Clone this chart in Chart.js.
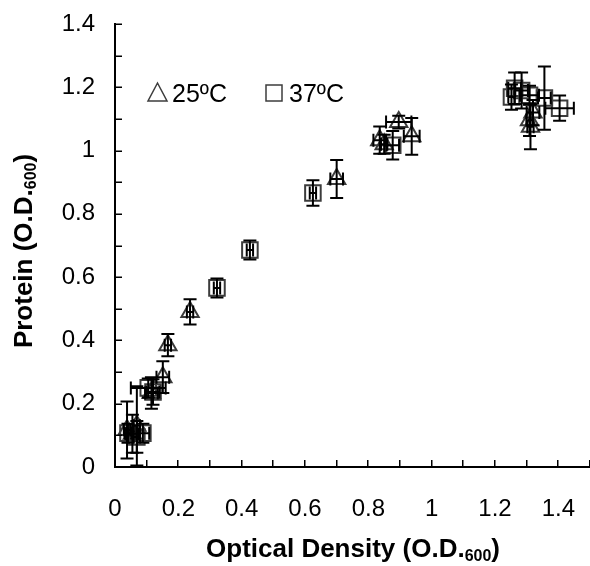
<!DOCTYPE html>
<html><head><meta charset="utf-8">
<script src="https://cdn.jsdelivr.net/npm/chart.js@4/dist/chart.umd.min.js"></script>
<style>html,body{margin:0;padding:0;background:#fff}#wrap{width:590px;height:566px;position:relative}</style>
</head><body><div id="wrap"><canvas id="c" width="590" height="566"></canvas></div>
<script>
// ---- data ----
const seriesLabels = ['25ºC', '37ºC'];
const xTickLabels = ['0', '0.2', '0.4', '0.6', '0.8', '1', '1.2', '1.4'];
const yTickLabels = ['0', '0.2', '0.4', '0.6', '0.8', '1', '1.2', '1.4'];
const xTitle = ['Optical Density (O.D.', '600', ')'];
const yTitle = ['Protein (O.D.', '600', ')'];

// 25 ºC (triangles)
const x25 = [0.038, 0.069, 0.055, 0.115, 0.151, 0.167, 0.237, 0.700, 0.836, 0.850, 0.896, 0.937, 1.309, 1.312, 1.320];
const y25 = [0.117, 0.130, 0.105, 0.234, 0.284, 0.385, 0.490, 0.910, 1.033, 1.020, 1.090, 1.045, 1.096, 1.075, 1.120];
const xErr25 = [0.010, 0.010, 0.020, 0.020, 0.020, 0.010, 0.010, 0.020, 0.020, 0.010, 0.040, 0.025, 0.010, 0.010, 0.020];
const yErr25 = [0.090, 0.125, 0.060, 0.050, 0.050, 0.035, 0.040, 0.060, 0.043, 0.030, 0.020, 0.058, 0.050, 0.071, 0.040];

// 37 ºC (squares)
const x37 = [0.041, 0.069, 0.088, 0.105, 0.120, 0.322, 0.426, 0.625, 0.877, 1.252, 1.262, 1.284, 1.309, 1.356, 1.404];
const y37 = [0.107, 0.095, 0.107, 0.250, 0.237, 0.566, 0.686, 0.866, 1.017, 1.169, 1.197, 1.190, 1.175, 1.166, 1.134];
const xErr37 = [0.010, 0.010, 0.020, 0.055, 0.020, 0.010, 0.010, 0.010, 0.020, 0.010, 0.020, 0.020, 0.030, 0.020, 0.045];
const yErr37 = [0.030, 0.050, 0.030, 0.030, 0.040, 0.030, 0.030, 0.040, 0.045, 0.040, 0.050, 0.057, 0.030, 0.100, 0.040];

// ---- build ----
function pts(xs, ys) { return xs.map((x, i) => ({ x: x, y: ys[i] })); }
const FONT = '"Liberation Sans", Arial, sans-serif';
const MARK = '#3c3c3c';

const errorBars = {
  id: 'errorBars',
  afterDatasetsDraw(chart) {
    const ctx = chart.ctx, xs = chart.scales.x, ys = chart.scales.y;
    ctx.save();
    ctx.strokeStyle = '#000';
    ctx.lineWidth = 2;
    const cap = 6.5;
    chart.data.datasets.forEach(ds => {
      ds.data.forEach((p, i) => {
        const px = xs.getPixelForValue(p.x), py = ys.getPixelForValue(p.y);
        const ey = ds.errY[i], ex = ds.errX[i];
        const y1 = ys.getPixelForValue(p.y - ey), y2 = ys.getPixelForValue(p.y + ey);
        const x1 = xs.getPixelForValue(p.x - ex), x2 = xs.getPixelForValue(p.x + ex);
        ctx.beginPath();
        ctx.moveTo(px, y1); ctx.lineTo(px, y2);
        ctx.moveTo(px - cap, y1); ctx.lineTo(px + cap, y1);
        ctx.moveTo(px - cap, y2); ctx.lineTo(px + cap, y2);
        ctx.moveTo(x1, py); ctx.lineTo(x2, py);
        ctx.moveTo(x1, py - cap); ctx.lineTo(x1, py + cap);
        ctx.moveTo(x2, py - cap); ctx.lineTo(x2, py + cap);
        ctx.stroke();
      });
    });
    ctx.restore();
  }
};

const innerTicks = {
  id: 'innerTicks',
  afterDraw(chart) {
    const ctx = chart.ctx, xs = chart.scales.x, ys = chart.scales.y, a = chart.chartArea;
    ctx.save();
    ctx.strokeStyle = '#000';
    ctx.lineWidth = 1.5;
    ctx.beginPath();
    for (let i = 1; i <= 15; i++) {
      const px = Math.round(xs.getPixelForValue(i / 10)) - 0.25;
      ctx.moveTo(px, a.bottom); ctx.lineTo(px, a.bottom - 7);
    }
    for (let i = 1; i <= 14; i++) {
      const py = Math.round(ys.getPixelForValue(i / 10)) + 0.25;
      ctx.moveTo(a.left, py); ctx.lineTo(a.left + 7, py);
    }
    ctx.stroke();
    ctx.restore();
  }
};

function drawSubTitle(ctx, parts, cx, cy, big, small) {
  ctx.font = 'bold ' + big + 'px ' + FONT;
  const w0 = ctx.measureText(parts[0]).width, w2 = ctx.measureText(parts[2]).width;
  ctx.font = 'bold ' + small + 'px ' + FONT;
  const w1 = ctx.measureText(parts[1]).width;
  let x = cx - (w0 + w1 + w2) / 2;
  ctx.textBaseline = 'alphabetic';
  ctx.textAlign = 'left';
  const base = cy + big * 0.36;
  ctx.font = 'bold ' + big + 'px ' + FONT;
  ctx.fillText(parts[0], x, base); x += w0;
  ctx.font = 'bold ' + small + 'px ' + FONT;
  ctx.fillText(parts[1], x, base + 4); x += w1;
  ctx.font = 'bold ' + big + 'px ' + FONT;
  ctx.fillText(parts[2], x, base);
}

const titlesAndLegend = {
  id: 'titlesAndLegend',
  afterDraw(chart) {
    const ctx = chart.ctx;
    ctx.save();
    ctx.fillStyle = '#000';
    drawSubTitle(ctx, xTitle, 353, 548, 26, 16);
    ctx.save();
    ctx.translate(23, 251);
    ctx.rotate(-Math.PI / 2);
    drawSubTitle(ctx, yTitle, 0, 0, 26, 16);
    ctx.restore();

    // legend
    ctx.strokeStyle = MARK;
    ctx.lineWidth = 1.5;
    ctx.beginPath();
    ctx.moveTo(157.5, 83); ctx.lineTo(167, 101); ctx.lineTo(148, 101); ctx.closePath();
    ctx.stroke();
    ctx.strokeRect(266, 85, 16, 16);
    ctx.font = '25px ' + FONT;
    ctx.textBaseline = 'alphabetic';
    ctx.textAlign = 'left';
    ctx.fillText(seriesLabels[0], 172, 102);
    ctx.fillText(seriesLabels[1], 289, 102);
    ctx.restore();
  }
};

new Chart(document.getElementById('c'), {
  type: 'scatter',
  data: {
    datasets: [
      { label: seriesLabels[0], data: pts(x25, y25), errX: xErr25, errY: yErr25,
        pointStyle: 'triangle', pointRadius: 10, pointBorderWidth: 2,
        pointBorderColor: MARK, pointBackgroundColor: 'rgba(0,0,0,0)' },
      { label: seriesLabels[1], data: pts(x37, y37), errX: xErr37, errY: yErr37,
        pointStyle: 'rect', pointRadius: 11, pointBorderWidth: 2,
        pointBorderColor: MARK, pointBackgroundColor: 'rgba(0,0,0,0)' }
    ]
  },
  options: {
    responsive: false, animation: false, devicePixelRatio: 1,
    layout: { autoPadding: false, padding: { top: 24, right: 0, bottom: 0, left: 0 } },
    plugins: { legend: { display: false }, tooltip: { enabled: false } },
    scales: {
      x: {
        type: 'linear', min: 0, max: 1.5,
        afterFit: s => { s.height = 99; s.paddingLeft = 0; s.paddingRight = 0; },
        grid: { display: true, drawOnChartArea: false, drawTicks: false },
        border: { display: true, color: '#000', width: 2 },
        ticks: { stepSize: 0.2, includeBounds: false, autoSkip: false, maxRotation: 0,
          padding: 28, color: '#000', font: { family: FONT, size: 24 },
          callback: (v, i) => xTickLabels[i] }
      },
      y: {
        type: 'linear', min: 0, max: 1.4,
        afterFit: s => { s.width = 115; s.paddingTop = 0; s.paddingBottom = 0; },
        grid: { display: true, drawOnChartArea: false, drawTicks: false },
        border: { display: true, color: '#000', width: 2 },
        ticks: { stepSize: 0.2, includeBounds: false, autoSkip: false,
          padding: 20, color: '#000', font: { family: FONT, size: 24 },
          callback: (v, i) => yTickLabels[i] }
      }
    }
  },
  plugins: [errorBars, innerTicks, titlesAndLegend]
});
</script>
</body></html>
